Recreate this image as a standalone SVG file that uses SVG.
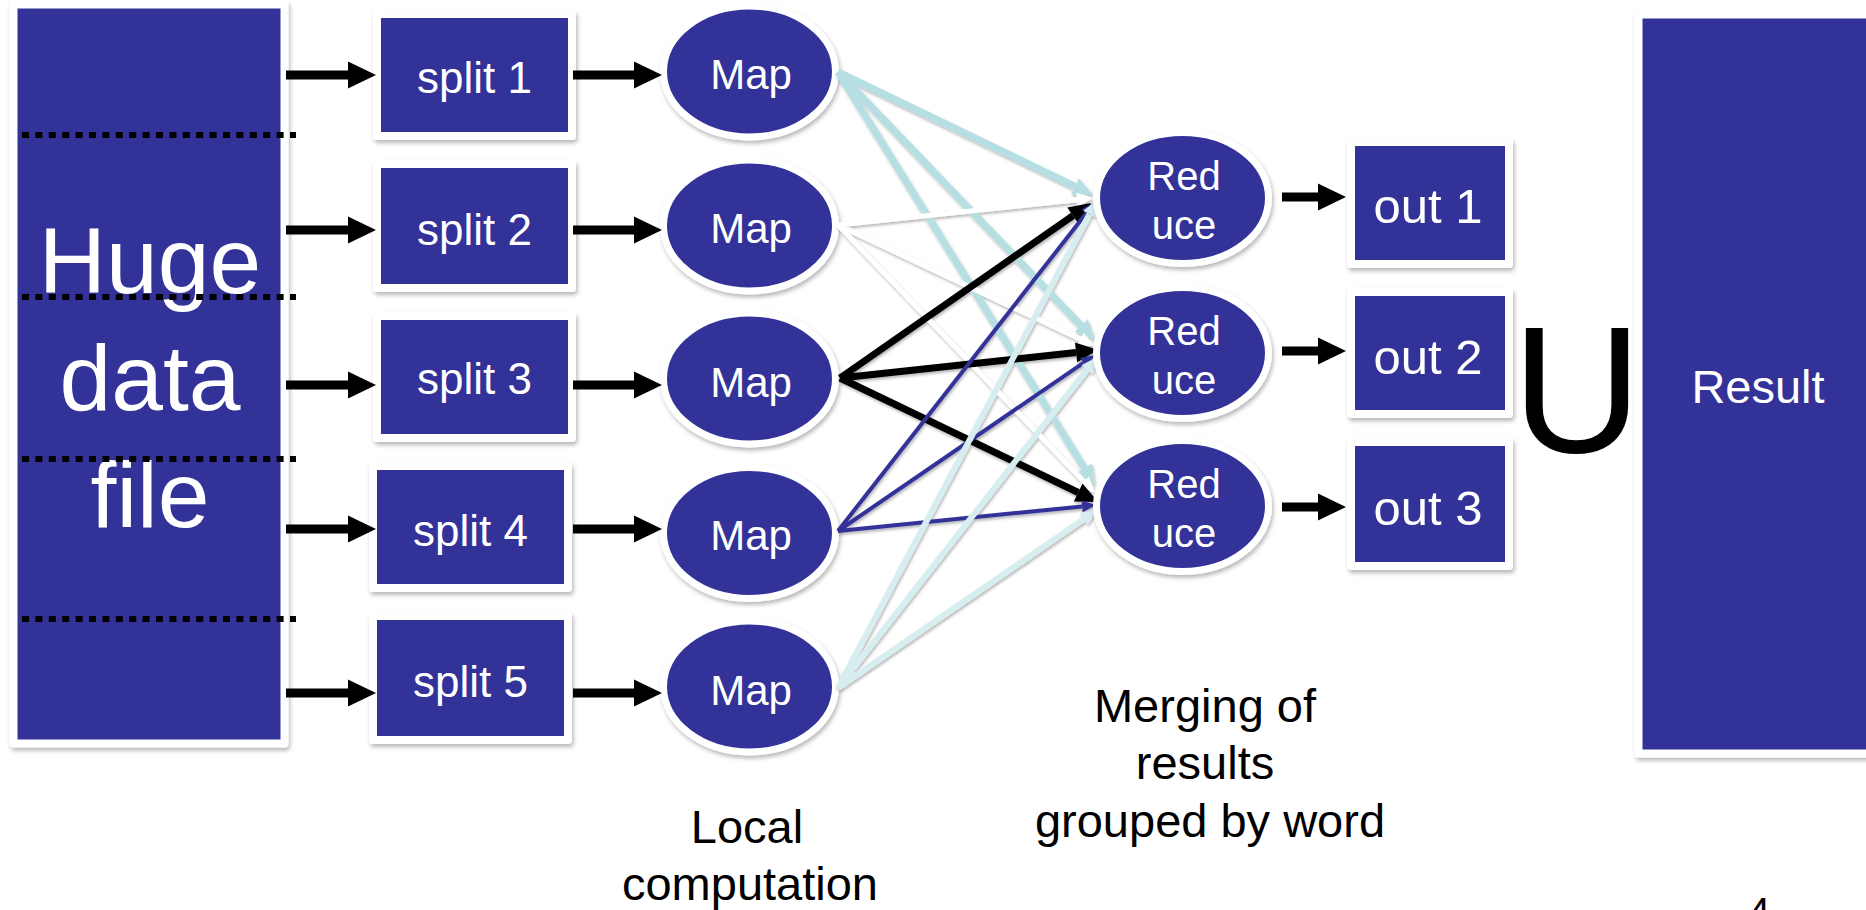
<svg xmlns="http://www.w3.org/2000/svg" width="1866" height="910" viewBox="0 0 1866 910">
  <style>
    .box { fill: #333399; stroke: #ffffff; stroke-width: 8; stroke-linejoin: round; filter: url(#sh); }
    .ell { fill: #333399; stroke: #ffffff; stroke-width: 7; filter: url(#sh); }
    .wt { fill: #ffffff; font-family: "Liberation Sans", Arial, sans-serif; text-anchor: middle; }
    .bt { fill: #000000; font-family: "Liberation Sans", Arial, sans-serif; text-anchor: middle; }
    .dots { stroke: #000000; stroke-width: 6; stroke-dasharray: 7 6.4; fill: none; }
    .arr { stroke: #000000; stroke-width: 9; fill: none; }
    .c1 { stroke: #b5dfe3; stroke-width: 7; fill: none; marker-end: url(#h1); }
    .c2 { stroke: #ffffff; stroke-width: 5; fill: none; marker-end: url(#h2); }
    .c3 { stroke: #000000; stroke-width: 7; fill: none; marker-end: url(#h3); }
    .c4 { stroke: #333399; stroke-width: 4; fill: none; marker-end: url(#h4); }
    .c5 { stroke: #d6eef0; stroke-width: 6; fill: none; marker-end: url(#h5); }
  </style>
  <defs>
    <filter id="sh" x="-10%" y="-10%" width="130%" height="130%">
      <feDropShadow dx="1.5" dy="3" stdDeviation="2" flood-color="#000000" flood-opacity="0.28"/>
    </filter>
    <filter id="lsh" x="-10%" y="-10%" width="130%" height="130%">
      <feDropShadow dx="1" dy="2" stdDeviation="1.5" flood-color="#000000" flood-opacity="0.3"/>
    </filter>
    <marker id="ah" markerUnits="userSpaceOnUse" markerWidth="30" markerHeight="30" refX="0" refY="0" orient="auto" overflow="visible">
      <path d="M0,-13.5 L28,0 L0,13.5 z" fill="#000000"/>
    </marker>
    <marker id="h1" markerUnits="userSpaceOnUse" markerWidth="20" markerHeight="20" refX="0" refY="0" orient="auto" overflow="visible">
      <path d="M0,-9 L20,0 L0,9 z" fill="#b5dfe3"/>
    </marker>
    <marker id="h2" markerUnits="userSpaceOnUse" markerWidth="20" markerHeight="20" refX="0" refY="0" orient="auto" overflow="visible">
      <path d="M0,-7 L16,0 L0,7 z" fill="#ffffff"/>
    </marker>
    <marker id="h3" markerUnits="userSpaceOnUse" markerWidth="22" markerHeight="22" refX="0" refY="0" orient="auto" overflow="visible">
      <path d="M0,-10 L22,0 L0,10 z" fill="#000000"/>
    </marker>
    <marker id="h4" markerUnits="userSpaceOnUse" markerWidth="14" markerHeight="14" refX="0" refY="0" orient="auto" overflow="visible">
      <path d="M0,-6 L14,0 L0,6 z" fill="#333399"/>
    </marker>
    <marker id="h5" markerUnits="userSpaceOnUse" markerWidth="16" markerHeight="16" refX="0" refY="0" orient="auto" overflow="visible">
      <path d="M0,-7 L16,0 L0,7 z" fill="#d6eef0"/>
    </marker>
  </defs>
  <rect x="0" y="0" width="1866" height="910" fill="#ffffff"/>

  <g id="huge-data-file">
    <rect class="box" x="13.5" y="4.5" width="271" height="739" stroke-width="7"/>
    <text class="wt" font-size="93" x="150" y="293">Huge</text>
    <text class="wt" font-size="93" x="150" y="410">data</text>
    <text class="wt" font-size="93" x="150" y="527">file</text>
    <path class="dots" d="M22,135 H296 M22,297 H296 M22,459 H296 M22,619 H296"/>
  </g>

  <g id="split1"><rect class="box" x="377" y="14" width="195" height="122"/><text class="wt" font-size="44" x="474.5" y="93">split 1</text></g>
  <g id="split2"><rect class="box" x="377" y="164" width="195" height="124"/><text class="wt" font-size="44" x="474.5" y="245">split 2</text></g>
  <g id="split3"><rect class="box" x="377" y="316" width="195" height="122"/><text class="wt" font-size="44" x="474.5" y="394">split 3</text></g>
  <g id="split4"><rect class="box" x="373" y="466" width="195" height="122"/><text class="wt" font-size="44" x="470.5" y="546">split 4</text></g>
  <g id="split5"><rect class="box" x="373" y="616" width="195" height="124"/><text class="wt" font-size="44" x="470.5" y="697">split 5</text></g>

  <g id="map1"><ellipse class="ell" cx="749.5" cy="71.5" rx="86" ry="65.5"/><text class="wt" font-size="42" x="751" y="89">Map</text></g>
  <g id="map2"><ellipse class="ell" cx="749.5" cy="225.5" rx="86" ry="65.5"/><text class="wt" font-size="42" x="751" y="243">Map</text></g>
  <g id="map3"><ellipse class="ell" cx="749.5" cy="378.5" rx="86" ry="65.5"/><text class="wt" font-size="42" x="751" y="397">Map</text></g>
  <g id="map4"><ellipse class="ell" cx="749.5" cy="533" rx="86" ry="65.5"/><text class="wt" font-size="42" x="751" y="550">Map</text></g>
  <g id="map5"><ellipse class="ell" cx="749.5" cy="686.5" rx="86" ry="65.5"/><text class="wt" font-size="42" x="751" y="705">Map</text></g>

  <g id="connectors">
    <g id="input-arrows" marker-end="url(#ah)">
      <path class="arr" d="M286,75 H348" marker-end="url(#ah)"/>
      <path class="arr" d="M286,230 H348" marker-end="url(#ah)"/>
      <path class="arr" d="M286,385 H348" marker-end="url(#ah)"/>
      <path class="arr" d="M286,529 H348" marker-end="url(#ah)"/>
      <path class="arr" d="M286,693 H348" marker-end="url(#ah)"/>
      <path class="arr" d="M573,75 H634" marker-end="url(#ah)"/>
      <path class="arr" d="M573,230 H634" marker-end="url(#ah)"/>
      <path class="arr" d="M573,385 H634" marker-end="url(#ah)"/>
      <path class="arr" d="M573,529 H634" marker-end="url(#ah)"/>
      <path class="arr" d="M573,693 H634" marker-end="url(#ah)"/>
      <path class="arr" d="M1282,197 H1318" marker-end="url(#ah)"/>
      <path class="arr" d="M1282,351 H1318" marker-end="url(#ah)"/>
      <path class="arr" d="M1282,507 H1318" marker-end="url(#ah)"/>
    </g>
    <g id="shuffle" filter="url(#lsh)">
      <path class="c1" d="M838,72 L1075,186.3"/>
      <path class="c1" d="M838,72 L1081.2,325.6"/>
      <path class="c1" d="M838,72 L1084.4,468"/>
      <path class="c2" d="M838,225 L1077.1,199.7"/>
      <path class="c2" d="M838,225 L1080.5,339.2"/>
      <path class="c2" d="M838,225 L1083.9,481.5"/>
      <path class="c3" d="M840,378 L1073,215.6"/>
      <path class="c3" d="M840,378 L1076.1,352.4"/>
      <path class="c3" d="M840,378 L1078.2,492.5"/>
      <path class="c4" d="M838,531 L1086.4,213"/>
      <path class="c4" d="M838,531 L1083.4,362.9"/>
      <path class="c4" d="M838,531 L1082.1,506.4"/>
      <path class="c5" d="M838,688 L1089.5,214.1"/>
      <path class="c5" d="M838,688 L1087.1,369.6"/>
      <path class="c5" d="M838,688 L1083.8,519.1"/>
    </g>
  </g>

  <g id="reduce1"><ellipse class="ell" cx="1182.5" cy="198" rx="86" ry="65.5"/><text class="wt" font-size="40" x="1184" y="190">Red</text><text class="wt" font-size="40" x="1184" y="239">uce</text></g>
  <g id="reduce2"><ellipse class="ell" cx="1182.5" cy="353" rx="86" ry="65.5"/><text class="wt" font-size="40" x="1184" y="345">Red</text><text class="wt" font-size="40" x="1184" y="394">uce</text></g>
  <g id="reduce3"><ellipse class="ell" cx="1182.5" cy="506" rx="86" ry="65.5"/><text class="wt" font-size="40" x="1184" y="498">Red</text><text class="wt" font-size="40" x="1184" y="547">uce</text></g>

  <g id="out1"><rect class="box" x="1351" y="142" width="158" height="122"/><text class="wt" font-size="49" x="1428" y="223">out 1</text></g>
  <g id="out2"><rect class="box" x="1351" y="292" width="158" height="122"/><text class="wt" font-size="49" x="1428" y="374">out 2</text></g>
  <g id="out3"><rect class="box" x="1351" y="442" width="158" height="124"/><text class="wt" font-size="49" x="1428" y="525">out 3</text></g>

  <g id="union"><text class="bt" font-size="180" x="1577" y="452">U</text></g>

  <g id="result"><rect class="box" x="1638.5" y="14.5" width="300" height="739" stroke-width="7"/><text class="wt" font-size="47" x="1758" y="403">Result</text></g>

  <g id="label-local">
    <text class="bt" font-size="47" x="747" y="843">Local</text>
    <text class="bt" font-size="47" x="750" y="900">computation</text>
  </g>
  <g id="label-merging">
    <text class="bt" font-size="47" x="1205" y="722">Merging of</text>
    <text class="bt" font-size="47" x="1205" y="779">results</text>
    <text class="bt" font-size="47" x="1210" y="837">grouped by word</text>
  </g>
  <text class="bt" font-size="40" x="1759" y="926">4</text>
</svg>
